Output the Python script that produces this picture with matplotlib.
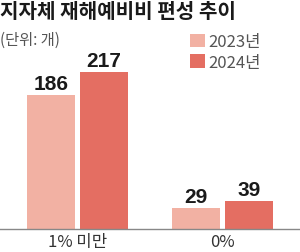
import matplotlib
matplotlib.use("Agg")
import matplotlib.pyplot as plt
from matplotlib.patches import Patch

plt.rcParams['font.family'] = ['Noto Sans CJK KR', 'DejaVu Sans']

categories = ["1% 미만", "0%"]
series_names = ["2023년", "2024년"]
values_2023 = [186, 29]
values_2024 = [217, 39]
colors = ["#F2B1A3", "#E46E62"]

W, H = 300, 253
fig = plt.figure(figsize=(W/100, H/100), dpi=100)
ax = fig.add_axes([0, 23/H, 1, 1 - 23/H - 13.4/H])

x = [0, 1]
bw = 48/145
off = 26.5/145
b1 = ax.bar([i - off for i in x], values_2023, width=bw, color=colors[0])
b2 = ax.bar([i + off for i in x], values_2024, width=bw, color=colors[1])
ax.set_xlim(-77.5/145, 1 + 77.5/145)
ax.set_ylim(0, 300)

for bars, vals in ((b1, values_2023), (b2, values_2024)):
    for r, v in zip(bars, vals):
        ax.text(r.get_x() + r.get_width()/2, v + 3, str(v), ha='center', va='bottom',
                fontsize=15, fontweight='bold', family=['Liberation Sans', 'DejaVu Sans'],
                color='#1a1a1a')

for s in ['top', 'right', 'left']:
    ax.spines[s].set_visible(False)
ax.spines['bottom'].set_color('#888888')
ax.spines['bottom'].set_linewidth(1.0)
ax.set_yticks([])
ax.set_xticks(x)
ax.set_xticklabels(categories, fontsize=12, color='#333333')
ax.tick_params(axis='x', length=0, pad=3)

fig.text(0.0, 1 - 12/H, "지자체 재해예비비 편성 추이", fontsize=14.5, fontweight='bold',
         va='center', ha='left', color='#1a1a1a')
fig.text(0.0, 1 - 40/H, "(단위: 개)", fontsize=11, va='center', ha='left', color='#555555')

handles = [Patch(facecolor=c, edgecolor='none') for c in colors]
fig.legend(handles, series_names, loc='upper left', bbox_to_anchor=(182/W, 1 - 26/H),
           frameon=False, fontsize=12, handlelength=0.85, handleheight=0.85,
           handletextpad=0.25, labelspacing=0.2, borderpad=0, labelcolor='#555555')

fig.savefig("out.png", dpi=100)
